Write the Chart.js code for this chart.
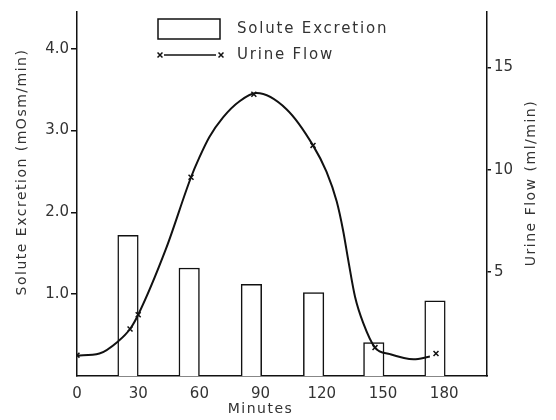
<!DOCTYPE html>
<html><head><meta charset="utf-8">
<script src="https://cdn.jsdelivr.net/npm/chart.js@4/dist/chart.umd.min.js"></script>
<style>html,body{margin:0;padding:0;background:#fff}#wrap{width:556px;height:420px;position:relative}</style>
</head><body><div id="wrap"><canvas id="c" width="556" height="420"></canvas></div>
<script>
// Bars: solute excretion (mOsm/min), centred on collection periods (minutes)
const barMinutes = [25, 55, 85.5, 116, 145.5, 175.5];
const soluteExcretion = [1.72, 1.32, 1.12, 1.02, 0.41, 0.92];
// Urine flow measurement points (x marks)
const flowMinutes = [0, 26, 30, 55.9, 86.7, 115.7, 146.1, 176];
const urineFlow = [0.92, 2.2, 2.9, 9.63, 13.69, 11.19, 1.29, 1.0];
// Hand-drawn fitted curve
const curveMinutes = [0, 11, 20.2, 26, 30, 43.6, 55.9, 60, 64.9, 71.5, 79.7, 88, 102.7, 115.7, 122.3, 127.3, 130.5, 133, 136.3, 140.3, 146.1, 153.5, 165, 173];
const curveFlow = [0.9, 1.0, 1.6, 2.2, 2.9, 6.12, 9.63, 10.6, 11.6, 12.55, 13.35, 13.75, 12.96, 11.19, 9.9, 8.45, 7.0, 5.56, 3.78, 2.5, 1.29, 0.97, 0.72, 0.85];
// Tick labels
const xTicks = [0, 30, 60, 90, 120, 150, 180];
const leftTicks = [1, 2, 3, 4];
const rightTicks = [5, 10, 15];
const xTitle = 'Minutes';
const leftTitle = 'Solute Excretion (mOsm/min)';
const rightTitle = 'Urine Flow (ml/min)';
const legendLabels = ['Solute Excretion', 'Urine Flow'];

Chart.defaults.font.family = 'DejaVu Sans';
Chart.defaults.font.size = 15;
Chart.defaults.color = '#333';

const INK = '#111';

const overlay = {
  id: 'overlay',
  afterDraw(chart) {
    const ctx = chart.ctx;
    const xs = chart.scales.x;
    ctx.save();
    ctx.fillStyle = '#333';
    ctx.font = '14px "DejaVu Sans"';
    ctx.letterSpacing = '1.5px';
    ctx.textAlign = 'center';
    ctx.textBaseline = 'middle';
    ctx.fillText(xTitle, xs.getPixelForValue(90), 409);
    ctx.save();
    ctx.translate(22, 172);
    ctx.rotate(-Math.PI / 2);
    ctx.fillText(leftTitle, 0, 0);
    ctx.restore();
    ctx.save();
    ctx.translate(531, 183);
    ctx.rotate(-Math.PI / 2);
    ctx.fillText(rightTitle, 0, 0);
    ctx.restore();
    ctx.font = '15px "DejaVu Sans"';
    ctx.letterSpacing = '1.8px';
    ctx.textAlign = 'left';
    ctx.strokeStyle = INK;
    ctx.lineWidth = 1.5;
    ctx.strokeRect(158, 19, 62, 20);
    ctx.fillText(legendLabels[0], 237, 29);
    ctx.beginPath();
    ctx.moveTo(164, 55); ctx.lineTo(216, 55);
    ctx.stroke();
    Chart.helpers.drawPoint(ctx, {pointStyle: 'crossRot', radius: 3.5, borderWidth: 1.5}, 160, 55);
    Chart.helpers.drawPoint(ctx, {pointStyle: 'crossRot', radius: 3.5, borderWidth: 1.5}, 221, 55);
    ctx.fillText(legendLabels[1], 237, 55);
    ctx.restore();
  }
};

new Chart(document.getElementById('c'), {
  type: 'bar',
  data: {
    datasets: [
      {
        type: 'line', label: 'curve', yAxisID: 'y2', order: 2,
        data: curveMinutes.map((m, i) => ({x: m, y: curveFlow[i]})),
        borderColor: INK, borderWidth: 2, pointRadius: 0, fill: false,
        cubicInterpolationMode: 'monotone'
      },
      {
        type: 'line', label: legendLabels[1], yAxisID: 'y2', order: 1,
        data: flowMinutes.map((m, i) => ({x: m, y: urineFlow[i]})),
        showLine: false, pointStyle: 'crossRot', pointRadius: 3.5,
        pointBorderColor: INK, pointBorderWidth: 1.5
      },
      {
        type: 'bar', label: legendLabels[0], yAxisID: 'y', order: 3,
        data: barMinutes.map((m, i) => ({x: m, y: soluteExcretion[i]})),
        backgroundColor: '#fff', borderColor: INK, borderWidth: 1.5,
        barThickness: 20.5
      }
    ]
  },
  options: {
    responsive: false, animation: false,
    layout: {padding: {top: 7, left: 0, right: 0, bottom: 0}},
    plugins: {legend: {display: false}, tooltip: {enabled: false}},
    scales: {
      x: {
        type: 'linear', min: 0, max: 201, offset: false,
        afterBuildTicks: s => { s.ticks = xTicks.map(v => ({value: v})); },
        afterFit: s => { s.height = 44; },
        ticks: {callback: v => String(v), padding: 1, maxRotation: 0, autoSkip: false},
        grid: {display: false, offset: false},
        border: {display: true, color: INK, width: 1.5}
      },
      y: {
        position: 'left', min: 0, max: 4.45,
        afterBuildTicks: s => { s.ticks = leftTicks.map(v => ({value: v})); },
        afterFit: s => { s.width = 77; },
        ticks: {callback: v => Number(v).toFixed(1), padding: 2},
        grid: {drawOnChartArea: false, tickLength: 6, color: INK, lineWidth: 1.5},
        border: {display: true, color: INK, width: 1.5}
      },
      y2: {
        position: 'right', min: -0.1, max: 17.72,
        afterBuildTicks: s => { s.ticks = rightTicks.map(v => ({value: v})); },
        afterFit: s => { s.width = 69; },
        ticks: {callback: v => String(v), padding: 3},
        grid: {drawOnChartArea: false, tickLength: 4, color: INK, lineWidth: 1.5},
        border: {display: true, color: INK, width: 1.5}
      }
    }
  },
  plugins: [overlay]
});
</script></body></html>
